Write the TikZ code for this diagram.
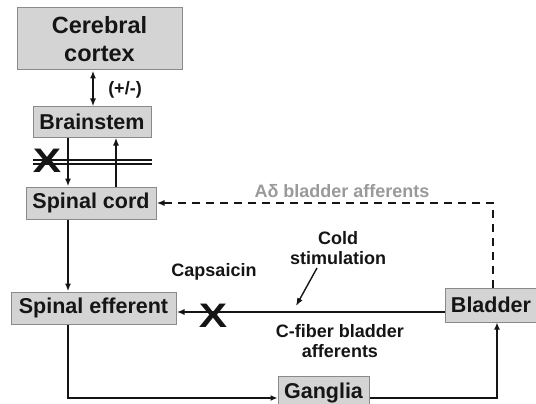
\documentclass[tikz,border=0pt]{standalone}
\usepackage{fontspec}
\setmainfont{Liberation Sans}
\usetikzlibrary{arrows.meta}
\definecolor{boxfill}{HTML}{D4D4D4}
\definecolor{boxdraw}{HTML}{8A8A8A}
\definecolor{txt}{HTML}{151515}
\definecolor{graytxt}{HTML}{9A9A9A}
\tikzset{
  box/.style={draw=boxdraw, fill=boxfill, line width=1pt, inner sep=0pt, text=txt,
    font=\fontsize{21.5}{24}\selectfont\bfseries, align=center},
  lbl/.style={inner sep=0pt, text=txt, font=\fontsize{18}{20}\selectfont\bfseries, align=center},
  bigx/.style={inner sep=0pt, text=txt, font=\fontsize{34}{34}\selectfont\bfseries, xscale=1.25},
  conn/.style={draw=txt, line width=1.6pt, -{Latex[length=8pt,width=6pt]}},
  thick conn/.style={draw=txt, line width=2.8pt, -{Latex[length=7pt,width=6pt]}},
  dconn/.style={draw=txt, line width=1.8pt, dash pattern=on 8pt off 6pt, -{Latex[length=8pt,width=6pt]}},
}
\begin{document}
\begin{tikzpicture}[x=1pt,y=-1pt]
\useasboundingbox (0,0) rectangle (536,404);
\clip (0,0) rectangle (536,404);
\fill[white] (0,0) rectangle (536,404);

% boxes
\node[box, minimum width=165pt, minimum height=62pt, font=\fontsize{23.5}{28}\selectfont\bfseries] (cortex) at (99.5,39) {Cerebral\\cortex};
\node[box, minimum width=118pt, minimum height=30pt] (brain) at (92,122) {Brainstem};
\node[box, minimum width=130pt, minimum height=32pt] (cord) at (91,203) {Spinal cord};
\node[box, minimum width=165pt, minimum height=32pt] (eff) at (93.5,308) {Spinal efferent};
\node[box, minimum width=92pt, minimum height=34pt] (bladder) at (491,305) {Bladder};
\node[box, minimum width=91pt, minimum height=34pt] (ganglia) at (323.5,393) {Ganglia};

% labels
\node[lbl] (pm) at (125,90) {(+/-)};
\node[lbl, text=graytxt] (adelta) at (342,191) {Aδ bladder afferents};
\node[lbl] (cold) at (338,248) {Cold\\stimulation};
\node[lbl] (caps) at (214,272) {Capsaicin};
\node[lbl] (cfib) at (340,341) {C-fiber bladder\\afferents};

% cortex <-> brainstem
\draw[conn, {Latex[length=8pt,width=6pt]}-{Latex[length=8pt,width=6pt]}] (cortex.south -| 93,0) -- (brain.north -| 93,0);

% brainstem <-> spinal cord
\draw[conn] (brain.south -| 68,0) -- (cord.north -| 68,0);
\draw[conn] (cord.north -| 116,0) -- (brain.south -| 116,0);
\coordinate (dl1) at (33,160);
\coordinate (dr1) at (152,160);
\coordinate (dl2) at (33,164);
\coordinate (dr2) at (152,164);
\draw[draw=txt, line width=1.3pt] (dl1) -- (dr1);
\draw[draw=txt, line width=1.3pt] (dl2) -- (dr2);
\node[bigx] (x1) at (47,161) {X};

% spinal cord -> efferent
\draw[conn] (cord.south -| 68,0) -- (eff.north -| 68,0);

% A delta dashed
\coordinate (dcorner) at (493,203);
\draw[dconn] (bladder.north -| dcorner) -- (dcorner) -- (cord.east |- dcorner);

% C-fiber
\draw[conn] (bladder.west |- 0,312) -- (eff.east |- 0,312);
\node[bigx] (x2) at (213,316) {X};
\coordinate (coldtip) at (296,306);
\draw[conn, line width=1.4pt] (317,268) -- (coldtip);

% efferent -> ganglia -> bladder
\coordinate (c1) at (68,398);
\draw[thick conn] (eff.south -| c1) -- (c1) -- (ganglia.west |- c1);
\coordinate (c2) at (497,398);
\draw[thick conn] (ganglia.east |- c2) -- (c2) -- (bladder.south -| c2);
\end{tikzpicture}
\end{document}
